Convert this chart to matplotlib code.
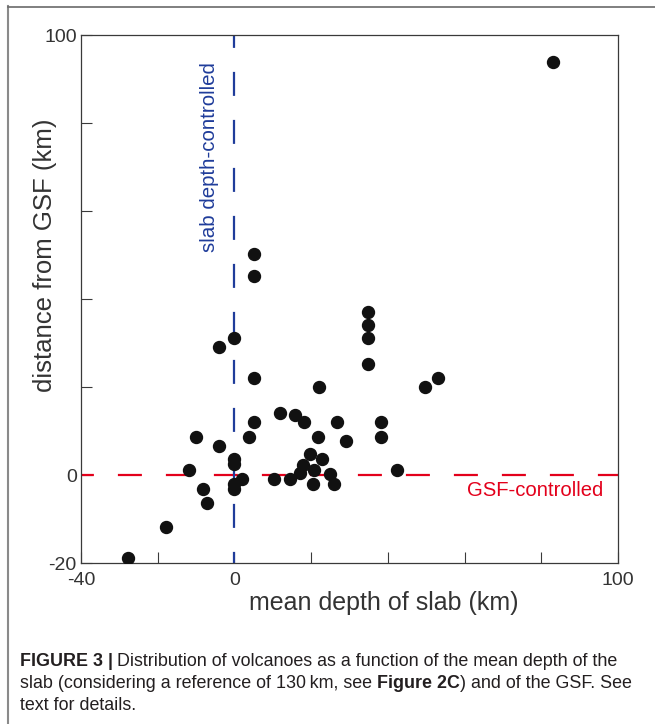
import matplotlib
matplotlib.use("Agg")
import matplotlib.pyplot as plt
from matplotlib.lines import Line2D

plt.rcParams['font.family'] = ['Liberation Sans', 'DejaVu Sans']

# data: mean depth of slab (km) vs distance from GSF (km)
depth = [-27.8, -17.9, -11.9, -10.1, -8.3, -7.1, -4.0, -4.0, 0.0, 0.0,
         0.0, 0.0, 0.0, 2.0, 3.7, 5.0, 5.0, 5.0, 5.0, 10.2,
         11.9, 14.6, 15.8, 17.1, 17.8, 18.2, 19.7, 20.4, 20.8, 21.7,
         22.1, 22.8, 24.8, 26.0, 26.8, 29.2, 34.9, 34.9, 34.9, 34.9,
         38.1, 38.1, 42.4, 49.7, 53.1, 83.0]
dist = [-18.9, -11.9, 1.1, 8.7, -3.1, -6.3, 6.6, 29.0, 31.1, 3.6,
        2.6, -2.0, -3.1, -1.0, 8.7, 12.0, 22.0, 50.2, 45.2, -1.0,
        14.2, -1.0, 13.7, 0.5, 2.2, 12.0, 4.8, -2.0, 1.1, 8.7,
        19.9, 3.7, 0.2, -2.0, 12.0, 7.7, 37.0, 34.2, 31.1, 25.2,
        12.0, 8.7, 1.1, 19.9, 22.0, 93.8]

xticks = [-40, -20, 0, 20, 40, 60, 80, 100]
xticklabels = ['-40', '', '0', '', '', '', '', '100']
yticks = [-20, 0, 20, 40, 60, 80, 100]
yticklabels = ['-20', '0', '', '', '', '', '100']

W, H = 655, 724
fig = plt.figure(figsize=(W / 100, H / 100), dpi=100)
fig.patch.set_facecolor('white')

ax = fig.add_axes([81 / W, 1 - 563 / H, 537 / W, 528 / H])
ax.set_xlim(-40, 100)
ax.set_ylim(-20, 100)

ax.plot([-40, 100], [0, 0], color='#e3001b', lw=1.6,
        linestyle=(5.0, (10.8, 10.8)), zorder=2)
ax.plot([0, 0], [100, -20], color='#1f3c9a', lw=1.6,
        linestyle=(5.0, (10.8, 10.8)), zorder=2)

ax.plot(depth, dist, 'o', color='#111111', markersize=8.6, zorder=3)

for s in ax.spines.values():
    s.set_color('#3a3a3a')
    s.set_linewidth(0.9)

ax.set_xticks(xticks)
ax.set_xticklabels(xticklabels)
ax.set_yticks(yticks)
ax.set_yticklabels(yticklabels)
ax.tick_params(axis='both', direction='in', length=8, width=0.8,
               color='#3a3a3a', labelsize=14, labelcolor='#333333')
ax.tick_params(axis='x', pad=6.5)
ax.tick_params(axis='y', pad=3)

ax.text(-6.4, 50.7, 'slab depth-controlled', rotation=90, ha='center',
        va='bottom', color='#1f3c9a', fontsize=14.8)
ax.text(96.1, -3.6, 'GSF-controlled', ha='right', va='center',
        color='#e3001b', fontsize=14.6)

fig.text(45 / W, 1 - 255.5 / H, 'distance from GSF (km)', rotation=90,
         ha='center', va='center', fontsize=18.5, color='#333333')
fig.text(383.5 / W, 1 - 603 / H, 'mean depth of slab (km)', ha='center',
         va='center', fontsize=18, color='#333333')

# frame lines
fig.add_artist(Line2D([8 / W, 8 / W], [0, 1 - 6 / H], transform=fig.transFigure,
                      color='#8a8a8a', lw=1.5))
fig.add_artist(Line2D([8 / W, 1], [1 - 6.5 / H, 1 - 6.5 / H],
                      transform=fig.transFigure, color='#6a6a6a', lw=1.2))

# caption
cap_font = ['Liberation Sans', 'DejaVu Sans']
cap_color = '#231f20'
cap_size = 12.9
t1 = fig.text(20 / W, 1 - 661 / H, 'FIGURE 3 |', ha='left', va='center',
              fontsize=cap_size, fontweight='bold', family=cap_font, color=cap_color)
fig.canvas.draw()
r = fig.canvas.get_renderer()
bb = t1.get_window_extent(r)
fig.text((bb.x1 + 4) / W, 1 - 661 / H,
         'Distribution of volcanoes as a function of the mean depth of the',
         ha='left', va='center', fontsize=cap_size, family=cap_font, color=cap_color)
t2 = fig.text(20 / W, 1 - 683 / H,
              'slab (considering a reference of 130\u2009km, see ',
              ha='left', va='center', fontsize=cap_size, family=cap_font, color=cap_color)
bb2 = t2.get_window_extent(r)
t3 = fig.text(bb2.x1 / W, 1 - 683 / H, 'Figure 2C', ha='left', va='center',
              fontsize=cap_size, fontweight='bold', family=cap_font, color=cap_color)
bb3 = t3.get_window_extent(r)
fig.text(bb3.x1 / W, 1 - 683 / H, ') and of the GSF. See', ha='left',
         va='center', fontsize=cap_size, family=cap_font, color=cap_color)
fig.text(20 / W, 1 - 705 / H, 'text for details.', ha='left', va='center',
         fontsize=cap_size, family=cap_font, color=cap_color)

fig.savefig('out.png', dpi=100, facecolor='white')
